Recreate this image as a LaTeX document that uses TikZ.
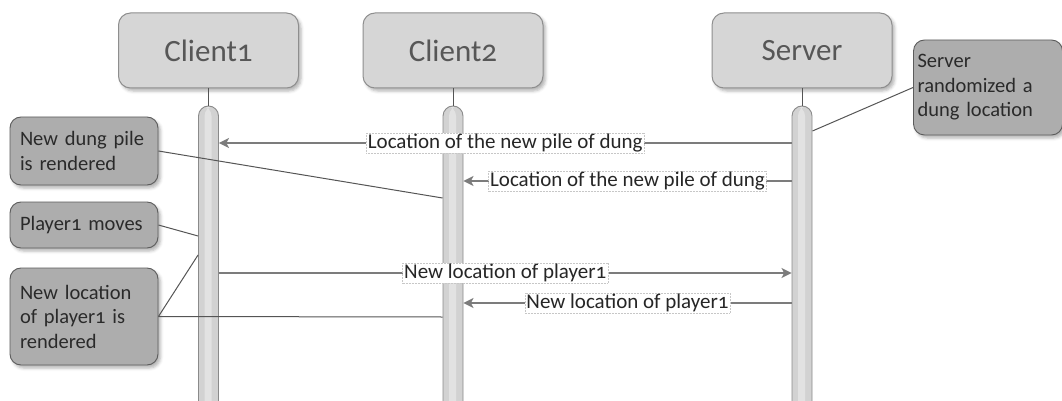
\documentclass[tikz,border=0pt]{standalone}
\usepackage{fontspec}
\setmainfont{Carlito}[Numbers=OldStyle]
\usetikzlibrary{arrows.meta,shadows.blur}
\definecolor{headfill}{HTML}{D6D6D6}
\definecolor{headline}{HTML}{8E8E8E}
\definecolor{headtext}{HTML}{575757}
\definecolor{notefill}{HTML}{ADADAD}
\definecolor{noteline}{HTML}{5C5C5C}
\definecolor{notetext}{HTML}{2A2A2A}
\definecolor{msgline}{HTML}{7C7C7C}
\definecolor{barfill}{HTML}{D2D2D2}
\definecolor{barcore}{HTML}{E2E2E2}
\definecolor{barline}{HTML}{8A8A8A}
\definecolor{tieline}{HTML}{555555}
\begin{document}
\begin{tikzpicture}[x=1pt,y=-1pt,
  actor/.style={draw=headline, fill=headfill, rounded corners=12pt,
    minimum width=180pt, minimum height=75pt, inner sep=0pt,
    text=headtext, font=\fontsize{31}{37}\selectfont, line width=1pt,
    blur shadow={shadow xshift=2.5pt, shadow yshift=-3pt,
      shadow blur radius=3pt, shadow opacity=30}},
  lifebar/.style={draw=barline, fill=barfill, rounded corners=10pt,
    minimum width=20pt, minimum height=330pt, inner sep=0pt,
    line width=0.9pt,
    path picture={\fill[barcore] ([xshift=-4pt]path picture bounding box.north)
      rectangle ([xshift=3pt]path picture bounding box.south);}},
  stem/.style={draw=tieline, line width=1pt},
  note/.style={draw=noteline, fill=notefill, rounded corners=11pt,
    text=notetext, font=\fontsize{20.5}{24.5}\selectfont, align=left,
    inner ysep=0pt, line width=0.9pt,
    blur shadow={shadow xshift=2.5pt, shadow yshift=-3pt,
      shadow blur radius=3pt, shadow opacity=30}},
  tie/.style={draw=tieline, line width=1pt},
  msg/.style={draw=msgline, line width=1.6pt,
    -{Stealth[length=10pt, width=10pt, inset=2.5pt]}},
  lbl/.style={fill=white, draw=black!22, densely dotted, line width=0.5pt,
    inner xsep=1.5pt, inner ysep=1pt, text=black!85,
    font=\fontsize{21}{25}\selectfont}
]
\clip (0,0) rectangle (1062,401);

% participants
\node[actor] (c1) at (208.5,50.5) {Client1};
\node[actor] (c2) at (453,50.5) {Client2};
\node[actor] (srv) at (802,50.5) {Server};

% activation bars
\node[lifebar] (c1bar) at (208.5,271) {};
\node[lifebar] (c2bar) at (453,271) {};
\node[lifebar] (sbar) at (802,271) {};

% lifeline stems
\draw[stem] (c1.south) -- (c1bar.north);
\draw[stem] (c2.south) -- (c2bar.north);
\draw[stem] (srv.south) -- (sbar.north);

% notes
\node[note, text width=141pt, inner xsep=4pt, minimum height=95pt]
  (snote) at (988,87.5) {Server\\randomized a\\dung location};
\node[note, text width=128pt, inner xsep=10pt, minimum height=68pt]
  (n1) at (84,151) {New dung pile\\is rendered};
\node[note, text width=128pt, inner xsep=10pt, minimum height=46pt]
  (n2) at (84,225) {Player1 moves};
\node[note, text width=128pt, inner xsep=10pt, minimum height=97pt]
  (n3) at (84,316.5) {New location\\of player1 is\\rendered};

% note connectors
\draw[tie] (snote.west) -- (sbar.east |- 0,131);
\draw[tie] (n1.east) -- (c2bar.west |- 0,198);
\draw[tie] (n2.east) -- (c1bar.west |- 0,236);
\draw[tie] (n3.east) -- (c1bar.west |- 0,255);
\draw[tie] (n3.east) -- (c2bar.west |- 0,317);

% messages
\draw[msg] (sbar.west |- 0,143) -- node[lbl] {Location of the new pile of dung} (c1bar.east |- 0,143);
\draw[msg] (sbar.west |- 0,181) -- node[lbl] {Location of the new pile of dung} (c2bar.east |- 0,181);
\draw[msg] (c1bar.east |- 0,273) -- node[lbl] {New location of player1} (sbar.west |- 0,273);
\draw[msg] (sbar.west |- 0,303) -- node[lbl] {New location of player1} (c2bar.east |- 0,303);
\end{tikzpicture}
\end{document}
